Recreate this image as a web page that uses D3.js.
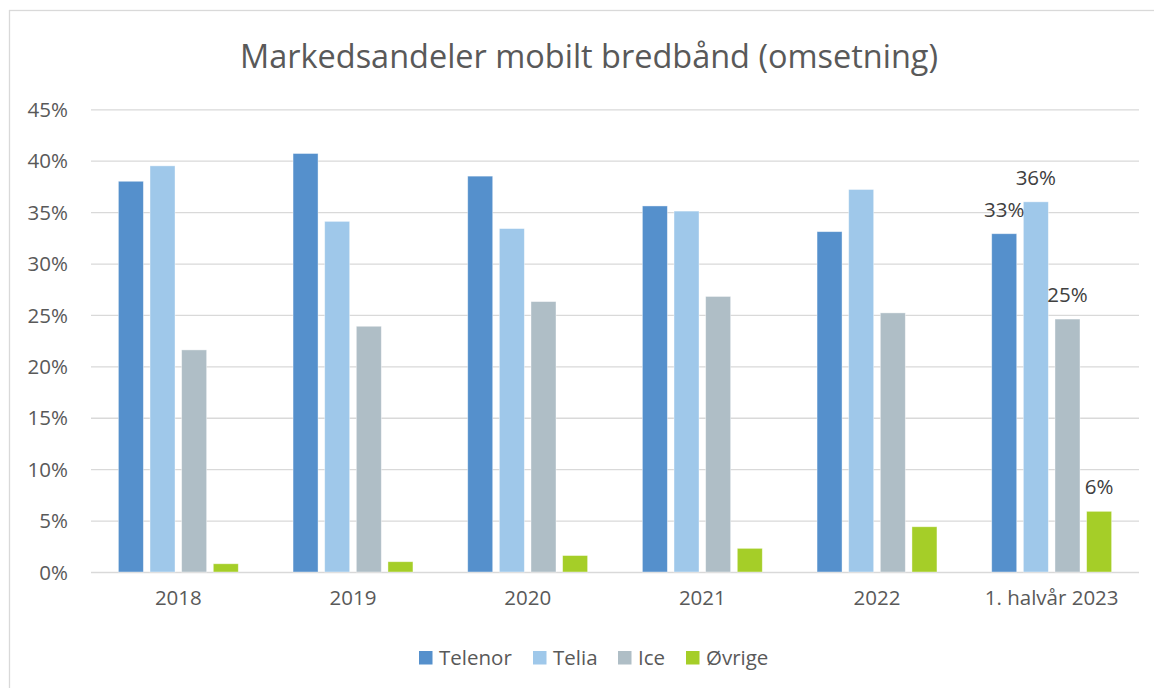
<!DOCTYPE html>
<html><head><meta charset="utf-8">
<script src="https://cdn.jsdelivr.net/npm/d3@7"></script>
<style>body{margin:0;background:#fff}svg{display:block}text{font-family:"Open Sans",sans-serif;fill:#595959}</style>
</head><body><svg id="c" width="1154" height="688"></svg>
<script>
const categories = ["2018","2019","2020","2021","2022","1. halvår 2023"];
const seriesNames = ["Telenor","Telia","Ice","Øvrige"];
const telenor = [0.380,0.407,0.385,0.356,0.331,0.329];
const telia   = [0.395,0.341,0.334,0.351,0.372,0.360];
const ice     = [0.216,0.239,0.263,0.268,0.252,0.246];
const ovrige  = [0.008,0.010,0.016,0.023,0.044,0.059];
const yTicks = [0,0.05,0.10,0.15,0.20,0.25,0.30,0.35,0.40,0.45];
const colors = ["#5590cc","#9fc8ea","#afbec6","#a5ce28"];
const title = "Markedsandeler mobilt bredbånd (omsetning)";

const series = [telenor, telia, ice, ovrige];
const svg = d3.select("#c");
svg.append("rect").attr("x",9.5).attr("y",10.5).attr("width",1200).attr("height",700)
  .attr("fill","#fff").attr("stroke","#d9d9d9").attr("stroke-width",1.3);

const L=91, R=1139, T=109.3, B=572;
const y = d3.scaleLinear().domain([0,0.45]).range([B,T]);
const x0 = d3.scaleBand().domain(categories).range([L,R]).paddingInner(0.3135).paddingOuter(0.15675);
const x1 = d3.scaleBand().domain(seriesNames).range([0,x0.bandwidth()]).paddingInner(0.21);

// title
svg.append("text").attr("x",589).attr("y",68).attr("text-anchor","middle")
  .style("font-size","32px").attr("textLength",698).attr("lengthAdjust","spacingAndGlyphs").text(title);

// grid
const yAxis = d3.axisLeft(y).tickValues(yTicks).tickFormat(d3.format(".0%")).tickSize(-(R-L)).tickPadding(22);
const gy = svg.append("g").attr("transform",`translate(${L},0)`).call(yAxis);
gy.select(".domain").remove();
gy.selectAll(".tick line").attr("stroke","#d9d9d9").attr("stroke-width",1.3);
gy.selectAll(".tick text").style("font-size","20.5px").style("fill","#595959").attr("x",-23).attr("dy","0.35em");

// bars
const g = svg.append("g");
categories.forEach((c,ci)=>{
  seriesNames.forEach((s,si)=>{
    const v = series[si][ci];
    g.append("rect").attr("x",x0(c)+x1(s)).attr("y",y(v)).attr("width",x1.bandwidth())
      .attr("height",B-y(v)).attr("fill",colors[si]).attr("stroke","rgba(255,255,255,0.5)").attr("stroke-width",0.8);
  });
});
// labels for last category
const last = categories[categories.length-1];
seriesNames.forEach((s,si)=>{
  const v = series[si][categories.length-1];
  svg.append("text").attr("x",x0(last)+x1(s)+x1.bandwidth()/2).attr("y",y(v)-17)
    .attr("text-anchor","middle").style("font-size","20.5px").style("fill","#404040").text(d3.format(".0%")(v));
});

// x axis
const xAxis = d3.axisBottom(x0).tickSize(0).tickPadding(0);
const gx = svg.append("g").attr("transform",`translate(0,${B})`).call(xAxis);
gx.select(".domain").remove();
gx.selectAll(".tick text").style("font-size","20.5px").style("fill","#595959").attr("y",32.5).attr("dy",0);

// legend
const legX = [419,533,618,686];
seriesNames.forEach((s,si)=>{
  svg.append("rect").attr("x",legX[si]).attr("y",651).attr("width",13.5).attr("height",13.5).attr("fill",colors[si]);
  svg.append("text").attr("x",legX[si]+20).attr("y",664.5).style("font-size","20.5px").text(s);
});
</script></body></html>
